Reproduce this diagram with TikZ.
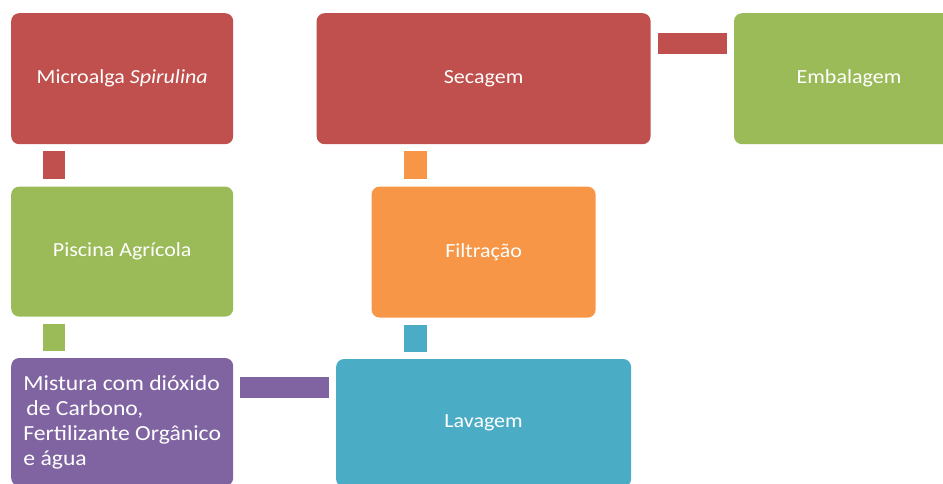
\documentclass[tikz,border=0pt]{standalone}
\usepackage{fontspec}
\setmainfont{Carlito}[FakeStretch=1.1]
\usetikzlibrary{positioning}
\definecolor{stepred}{HTML}{C0504D}
\definecolor{stepgreen}{HTML}{9BBB59}
\definecolor{steporange}{HTML}{F79646}
\definecolor{steppurple}{HTML}{8064A2}
\definecolor{stepblue}{HTML}{4BACC6}

\begin{document}
\begin{tikzpicture}[x=1pt,y=1pt,node distance=42pt and 83pt,
  stepbox/.style={rounded corners=8pt,draw=none,text=white,inner sep=0pt,
    font=\fontsize{20}{24.5}\selectfont,minimum height=131pt},
  link/.style={line width=22pt,shorten <=7pt,shorten >=7pt}]
\useasboundingbox (0,0) rectangle (943,-483);
\node[stepbox,fill=stepred,minimum width=222pt,anchor=north west] (micro) at (11,-13) {Microalga \textit{Spirulina}};
\node[stepbox,fill=stepred,minimum width=334pt,right=of micro] (sec) {Secagem};
\node[stepbox,fill=stepgreen,minimum width=230pt,right=of sec] (emb) {Embalagem};
\node[stepbox,fill=stepgreen,minimum width=222pt,minimum height=130pt,below=of micro] (pisc) {Piscina Agrícola};
\node[stepbox,fill=steporange,minimum width=224pt,below=of sec] (filt) {Filtração};
\node[stepbox,fill=steppurple,minimum width=222pt,minimum height=128pt,align=left,
  font=\fontsize{21.5}{25}\selectfont,below=41pt of pisc] (mist)
  {Mistura com dióxido\\\hspace*{3pt}de Carbono,\\Fertilizante Orgânico\\e água};
\node[stepbox,fill=stepblue,minimum width=295pt,minimum height=128pt,below=41pt of filt] (lav) {Lavagem};

\draw[link,stepred] ([xshift=43pt]micro.south west) -- ([xshift=43pt]pisc.north west);
\draw[link,stepgreen] ([xshift=43pt]pisc.south west) -- ([xshift=43pt]mist.north west);
\draw[link,steppurple,line width=21pt] ([yshift=-30pt]mist.north east) -- ([yshift=-30pt]mist.north east -| lav.west);
\draw[link,stepblue,line width=23pt] ([xshift=44pt]filt.south west |- lav.north) -- ([xshift=44pt]filt.south west);
\draw[link,steporange,line width=23pt] ([xshift=44pt]filt.north west) -- ([xshift=44pt]filt.north west |- sec.south);
\draw[link,stepred,line width=21pt] ([yshift=-30.5pt]sec.north east) -- ([yshift=-30.5pt]emb.north west);
\end{tikzpicture}
\end{document}
